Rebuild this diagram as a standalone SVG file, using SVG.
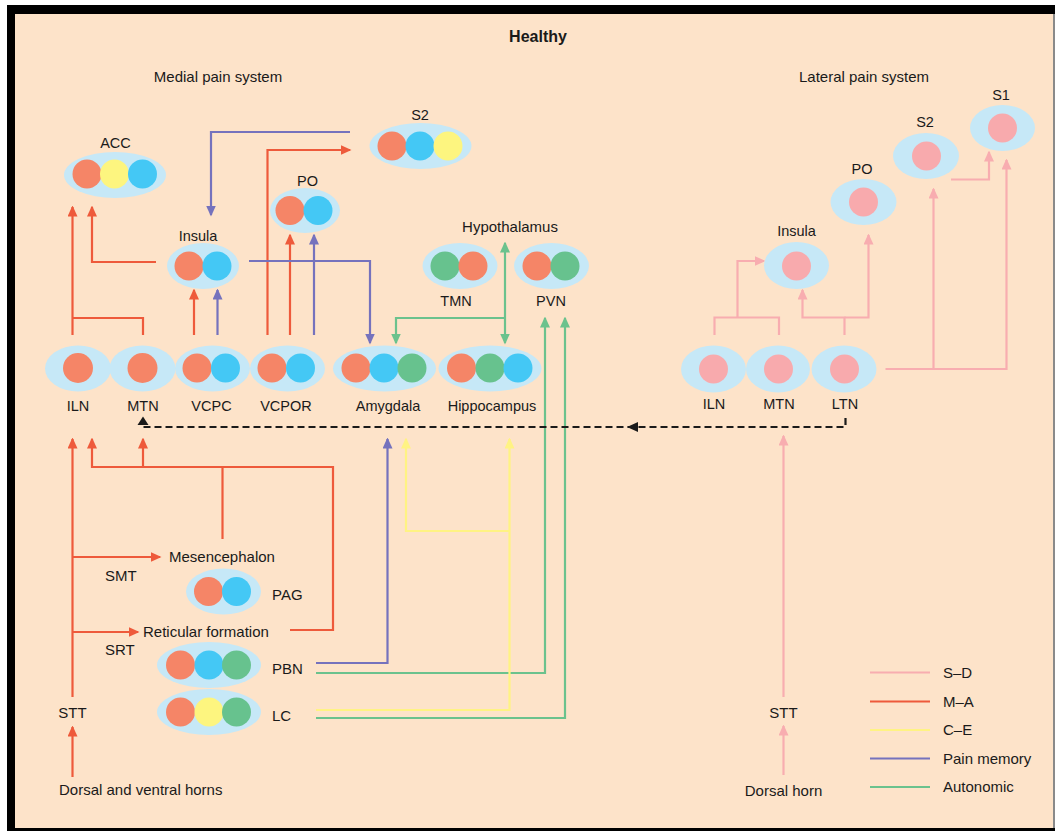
<svg xmlns="http://www.w3.org/2000/svg" width="1055" height="831" viewBox="0 0 1055 831">
<style>
text{font-family:"Liberation Sans",Arial,sans-serif;fill:#1a1a1a;font-size:15px}
.nl{font-size:14.5px;text-anchor:middle}
.c{text-anchor:middle}
.e{fill:#c6e8f7}
.o{fill:#f58567}.b{fill:#44c8f5}.y{fill:#fdf57f}.g{fill:#67c28e}.p{fill:#f8aaad}
.l{fill:none;stroke-width:2.2}
.lo{stroke:#ee5a3b}.lp{stroke:#7572bd}.lg{stroke:#6bc28d}.ly{stroke:#fff383}.lk{stroke:#f8adb0}
</style>
<defs>
<marker id="ao" markerUnits="userSpaceOnUse" markerWidth="11" markerHeight="10" refX="9.5" refY="5" orient="auto-start-reverse"><path d="M0,0L11,5L0,10z" fill="#ee5a3b"/></marker>
<marker id="ap" markerUnits="userSpaceOnUse" markerWidth="11" markerHeight="10" refX="9.5" refY="5" orient="auto-start-reverse"><path d="M0,0L11,5L0,10z" fill="#7572bd"/></marker>
<marker id="ag" markerUnits="userSpaceOnUse" markerWidth="11" markerHeight="10" refX="9.5" refY="5" orient="auto-start-reverse"><path d="M0,0L11,5L0,10z" fill="#6bc28d"/></marker>
<marker id="ay" markerUnits="userSpaceOnUse" markerWidth="11" markerHeight="10" refX="9.5" refY="5" orient="auto-start-reverse"><path d="M0,0L11,5L0,10z" fill="#fff383"/></marker>
<marker id="ak" markerUnits="userSpaceOnUse" markerWidth="11" markerHeight="10" refX="9.5" refY="5" orient="auto-start-reverse"><path d="M0,0L11,5L0,10z" fill="#f8adb0"/></marker>
</defs>
<rect x="0" y="0" width="1055" height="831" fill="#fff"/>
<rect x="7" y="5" width="1048" height="826" fill="#000"/>
<rect x="15" y="14" width="1038" height="814" fill="#fde3c9"/>
<rect x="1053" y="14" width="2" height="814" fill="#8a8a8a"/>

<text x="538" y="42" class="c" style="font-weight:bold;font-size:16px">Healthy</text>
<text x="218" y="82" class="c">Medial pain system</text>
<text x="864" y="82" class="c">Lateral pain system</text>

<g id="connectors">
<!-- M-A orange -->
<path class="l lo" d="M72.5,335V207" marker-end="url(#ao)"/>
<path class="l lo" d="M143,335V318H72.5"/>
<path class="l lo" d="M156,262H92V207" marker-end="url(#ao)"/>
<path class="l lo" d="M194,335V290" marker-end="url(#ao)"/>
<path class="l lo" d="M267.5,335V150H350" marker-end="url(#ao)"/>
<path class="l lo" d="M290,335V235" marker-end="url(#ao)"/>
<path class="l lo" d="M72.5,697V439" marker-end="url(#ao)"/>
<path class="l lo" d="M290,630H333V467H92V439" marker-end="url(#ao)"/>
<path class="l lo" d="M143,467V439" marker-end="url(#ao)"/>
<path class="l lo" d="M222.5,539V467"/>
<path class="l lo" d="M72.5,557H160" marker-end="url(#ao)"/>
<path class="l lo" d="M72.5,632H138" marker-end="url(#ao)"/>
<path class="l lo" d="M72.5,777V727" marker-end="url(#ao)"/>
<!-- Pain memory purple -->
<path class="l lp" d="M350,132H211V215" marker-end="url(#ap)"/>
<path class="l lp" d="M217.5,335V290" marker-end="url(#ap)"/>
<path class="l lp" d="M314,335V235" marker-end="url(#ap)"/>
<path class="l lp" d="M249,261H370V343" marker-end="url(#ap)"/>
<path class="l lp" d="M316,663H387.5V439" marker-end="url(#ap)"/>
<!-- Autonomic green -->
<path class="l lg" d="M505,243V343" marker-start="url(#ag)" marker-end="url(#ag)"/>
<path class="l lg" d="M505,318H396V343" marker-end="url(#ag)"/>
<path class="l lg" d="M316,673H545V318" marker-end="url(#ag)"/>
<path class="l lg" d="M316,718H565V318" marker-end="url(#ag)"/>
<!-- C-E yellow -->
<path class="l ly" d="M316,710H509.5V439" marker-end="url(#ay)"/>
<path class="l ly" d="M509.5,531H406V439" marker-end="url(#ay)"/>
<!-- S-D pink -->
<path class="l lk" d="M714.5,335V317.5H779V335"/>
<path class="l lk" d="M737.5,317.5V261H764" marker-end="url(#ak)"/>
<path class="l lk" d="M844.5,335V317.5H802.5V290" marker-end="url(#ak)"/>
<path class="l lk" d="M844.5,317.5H868.5V235" marker-end="url(#ak)"/>
<path class="l lk" d="M885.5,369H1006.5V160" marker-end="url(#ak)"/>
<path class="l lk" d="M933.5,369V189" marker-end="url(#ak)"/>
<path class="l lk" d="M951,179.5H989V152" marker-end="url(#ak)"/>
<path class="l lk" d="M783.5,697V436" marker-end="url(#ak)"/>
<path class="l lk" d="M783.5,775V726" marker-end="url(#ak)"/>
<!-- dashed -->
<path d="M845.5,418V427H143V423" fill="none" stroke="#1a1a1a" stroke-width="2.2" stroke-dasharray="7,4"/>
<path d="M137.5,425L143,416.5L148.5,425z" fill="#1a1a1a"/>
<path d="M627,427L638,422L638,432z" fill="#1a1a1a"/>
</g>

<g id="ACC"><ellipse class="e" cx="115" cy="175" rx="51" ry="23"/><circle class="o" cx="87" cy="174" r="14.5"/><circle class="y" cx="114.5" cy="174" r="14.5"/><circle class="b" cx="142.5" cy="174" r="14.5"/><text x="115.5" y="148" class="nl">ACC</text></g>
<g id="Insula-m"><ellipse class="e" cx="203" cy="266" rx="36" ry="23"/><circle class="o" cx="189" cy="266" r="14.5"/><circle class="b" cx="217" cy="266" r="14.5"/><text x="198" y="241" class="nl">Insula</text></g>
<g id="PO-m"><ellipse class="e" cx="305" cy="210.5" rx="35" ry="22.5"/><circle class="o" cx="290" cy="210.5" r="14.5"/><circle class="b" cx="318" cy="210.5" r="14.5"/><text x="307.5" y="186" class="nl">PO</text></g>
<g id="S2-m"><ellipse class="e" cx="420.5" cy="146" rx="51" ry="23"/><circle class="o" cx="392" cy="146" r="14.5"/><circle class="b" cx="420" cy="146" r="14.5"/><circle class="y" cx="448" cy="146" r="14.5"/><text x="420" y="120" class="nl">S2</text></g>
<text x="510" y="232" class="c">Hypothalamus</text>
<g id="TMN"><ellipse class="e" cx="460" cy="266" rx="37.5" ry="23"/><circle class="g" cx="445" cy="266" r="14.5"/><circle class="o" cx="473" cy="266" r="14.5"/><text x="456" y="306" class="nl">TMN</text></g>
<g id="PVN"><ellipse class="e" cx="551.5" cy="266" rx="37.5" ry="23"/><circle class="o" cx="537" cy="266" r="14.5"/><circle class="g" cx="565" cy="266" r="14.5"/><text x="551" y="306" class="nl">PVN</text></g>

<g id="ILN-m"><ellipse class="e" cx="78" cy="368.5" rx="33" ry="23"/><circle class="o" cx="78" cy="368" r="15"/><text x="78" y="411" class="nl">ILN</text></g>
<g id="MTN-m"><ellipse class="e" cx="142.5" cy="368.5" rx="33" ry="23"/><circle class="o" cx="142.5" cy="368" r="15"/><text x="143" y="411" class="nl">MTN</text></g>
<g id="VCPC"><ellipse class="e" cx="212.5" cy="368.5" rx="37.5" ry="23"/><circle class="o" cx="197" cy="368" r="14.5"/><circle class="b" cx="225.5" cy="368" r="14.5"/><text x="211.5" y="411" class="nl">VCPC</text></g>
<g id="VCPOR"><ellipse class="e" cx="287.5" cy="368.5" rx="37.5" ry="23"/><circle class="o" cx="272" cy="368" r="14.5"/><circle class="b" cx="300.5" cy="368" r="14.5"/><text x="286" y="411" class="nl">VCPOR</text></g>
<g id="Amygdala"><ellipse class="e" cx="384.5" cy="368.5" rx="51.5" ry="23"/><circle class="o" cx="356" cy="368" r="14.5"/><circle class="b" cx="384" cy="368" r="14.5"/><circle class="g" cx="412" cy="368" r="14.5"/><text x="388" y="411" class="nl">Amygdala</text></g>
<g id="Hippocampus"><ellipse class="e" cx="490" cy="368.5" rx="51.5" ry="23"/><circle class="o" cx="461.5" cy="368" r="14.5"/><circle class="g" cx="490" cy="368" r="14.5"/><circle class="b" cx="518" cy="368" r="14.5"/><text x="492" y="411" class="nl">Hippocampus</text></g>

<g id="Mesencephalon"><text x="169" y="562">Mesencephalon</text></g>
<text x="105" y="581">SMT</text>
<g id="PAG"><ellipse class="e" cx="223.5" cy="591.5" rx="37.5" ry="23"/><circle class="o" cx="208.5" cy="591.5" r="14.5"/><circle class="b" cx="236.5" cy="591.5" r="14.5"/><text x="272" y="600">PAG</text></g>
<g id="Reticular"><text x="143" y="637">Reticular formation</text></g>
<text x="105" y="655">SRT</text>
<g id="PBN"><ellipse class="e" cx="209" cy="665" rx="52" ry="23"/><circle class="o" cx="180.5" cy="665" r="14.5"/><circle class="b" cx="209" cy="665" r="14.5"/><circle class="g" cx="236.5" cy="665" r="14.5"/><text x="272" y="674">PBN</text></g>
<g id="LC"><ellipse class="e" cx="209" cy="712" rx="52" ry="23"/><circle class="o" cx="180.5" cy="712" r="14.5"/><circle class="y" cx="209" cy="712" r="14.5"/><circle class="g" cx="236.5" cy="712" r="14.5"/><text x="272" y="721">LC</text></g>
<g id="STT-m"><text x="72.5" y="718" class="c">STT</text></g>
<g id="Horns"><text x="59" y="795">Dorsal and ventral horns</text></g>

<g id="S1-l"><ellipse class="e" cx="1002.5" cy="128" rx="32.5" ry="23"/><circle class="p" cx="1002.5" cy="128" r="14.5"/><text x="1001" y="100" class="nl">S1</text></g>
<g id="S2-l"><ellipse class="e" cx="926" cy="156" rx="33" ry="23"/><circle class="p" cx="926.5" cy="156" r="14.5"/><text x="925" y="127" class="nl">S2</text></g>
<g id="PO-l"><ellipse class="e" cx="863.5" cy="202" rx="33" ry="23"/><circle class="p" cx="863.5" cy="202" r="14.5"/><text x="862" y="174" class="nl">PO</text></g>
<g id="Insula-l"><ellipse class="e" cx="796.5" cy="265.5" rx="32.5" ry="23.5"/><circle class="p" cx="796.5" cy="266" r="14.5"/><text x="796.5" y="236" class="nl">Insula</text></g>
<g id="ILN-l"><ellipse class="e" cx="713.5" cy="369" rx="32.5" ry="23.5"/><circle class="p" cx="713.5" cy="369" r="14.5"/><text x="714" y="409" class="nl">ILN</text></g>
<g id="MTN-l"><ellipse class="e" cx="778" cy="369" rx="32" ry="23.5"/><circle class="p" cx="778.5" cy="369" r="14.5"/><text x="779" y="409" class="nl">MTN</text></g>
<g id="LTN-l"><ellipse class="e" cx="844" cy="369" rx="32.5" ry="23.5"/><circle class="p" cx="844.5" cy="369" r="14.5"/><text x="845" y="409" class="nl">LTN</text></g>
<g id="STT-l"><text x="783.5" y="718" class="c">STT</text></g>
<g id="DorsalHorn"><text x="783.5" y="796" class="c">Dorsal horn</text></g>

<g id="legend">
<path class="l lk" d="M870,672.5H930"/><text x="943" y="678">S–D</text>
<path class="l lo" d="M870,701.5H930"/><text x="943" y="707">M–A</text>
<path class="l ly" d="M870,730H930"/><text x="943" y="735">C–E</text>
<path class="l lp" d="M870,758.5H930"/><text x="943" y="764">Pain memory</text>
<path class="l lg" d="M870,787H930"/><text x="943" y="792">Autonomic</text>
</g>
</svg>
